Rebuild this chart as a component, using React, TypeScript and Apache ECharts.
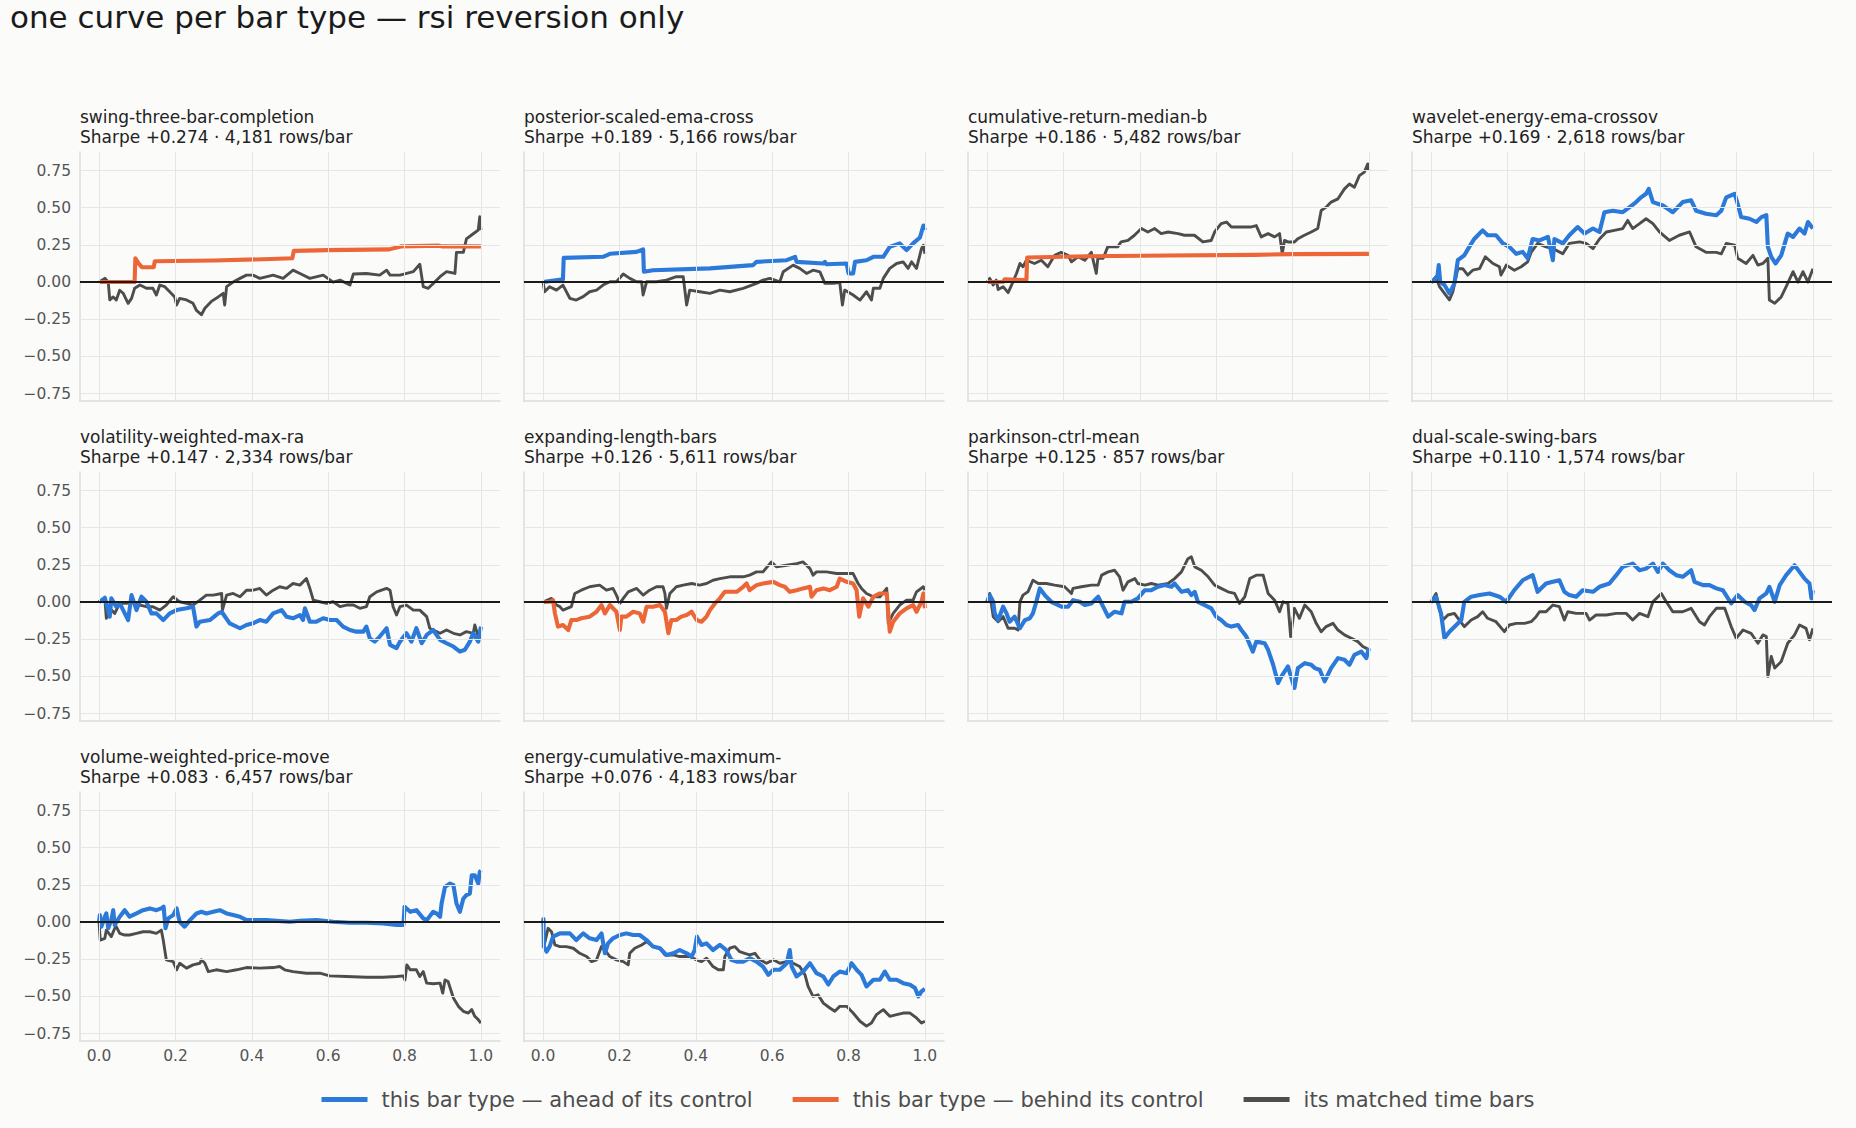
import { useEffect, useRef } from 'react'
import * as echarts from 'echarts'

// ── Data ─────────────────────────────────────────────────────────────────────
// one panel per bar type; x = fraction of the sample, y = cumulative return
const PANEL_NAMES = [
  'swing-three-bar-completion',
  'posterior-scaled-ema-cross',
  'cumulative-return-median-b',
  'wavelet-energy-ema-crossov',
  'volatility-weighted-max-ra',
  'expanding-length-bars',
  'parkinson-ctrl-mean',
  'dual-scale-swing-bars',
  'volume-weighted-price-move',
  'energy-cumulative-maximum-',
]
const SHARPE = ['+0.274', '+0.189', '+0.186', '+0.169', '+0.147', '+0.126', '+0.125', '+0.110', '+0.083', '+0.076']
const ROWS_PER_BAR = ['4,181', '5,166', '5,482', '2,618', '2,334', '5,611', '857', '1,574', '6,457', '4,183']
// true = bar type ended ahead of its time-bar control (blue), false = behind (orange)
const AHEAD = [false, true, false, true, true, false, true, true, true, true]

const X_TICKS = [0, 0.2, 0.4, 0.6, 0.8, 1.0]
const Y_TICKS = [-0.75, -0.5, -0.25, 0, 0.25, 0.5, 0.75]

const P1_BAR = [[0, 0], [0.093, 0], [0.095, 0.16], [0.105, 0.12], [0.112, 0.1], [0.143, 0.1], [0.146, 0.14], [0.3, 0.145], [0.45, 0.155], [0.506, 0.16], [0.51, 0.21], [0.6, 0.215], [0.76, 0.22], [0.79, 0.24], [0.89, 0.245], [0.9, 0.24], [1, 0.24]]
const P1_TIME = [[0, 0], [0.015, 0.025], [0.024, 0], [0.028, -0.12], [0.037, -0.1], [0.045, -0.12], [0.054, -0.055], [0.063, -0.075], [0.076, -0.143], [0.085, -0.11], [0.093, -0.042], [0.107, -0.02], [0.124, -0.042], [0.141, -0.042], [0.15, -0.087], [0.159, -0.02], [0.172, -0.031], [0.185, -0.065], [0.198, -0.1], [0.203, -0.154], [0.211, -0.11], [0.229, -0.12], [0.246, -0.143], [0.255, -0.19], [0.268, -0.22], [0.277, -0.176], [0.294, -0.13], [0.312, -0.1], [0.325, -0.076], [0.329, -0.154], [0.334, -0.031], [0.351, 0], [0.369, 0.025], [0.386, 0.047], [0.403, 0.047], [0.421, 0.025], [0.456, 0.047], [0.482, 0.025], [0.508, 0.08], [0.526, 0.058], [0.552, 0.025], [0.587, 0.047], [0.613, 0], [0.631, 0.013], [0.657, -0.02], [0.666, 0.054], [0.7, 0.058], [0.735, 0.047], [0.753, 0.08], [0.762, 0.047], [0.788, 0.047], [0.823, 0.07], [0.84, 0.12], [0.849, -0.031], [0.862, -0.042], [0.875, -0.01], [0.893, 0.036], [0.91, 0.07], [0.932, 0.058], [0.936, 0.2], [0.954, 0.2], [0.962, 0.29], [0.98, 0.325], [0.993, 0.35], [0.997, 0.44], [1, 0.35]]

const P2_BAR = [[0, 0], [0.052, 0.018], [0.054, 0.163], [0.157, 0.17], [0.175, 0.19], [0.245, 0.203], [0.262, 0.22], [0.264, 0.07], [0.288, 0.08], [0.437, 0.092], [0.55, 0.114], [0.559, 0.136], [0.638, 0.147], [0.66, 0.17], [0.664, 0.136], [0.734, 0.125], [0.738, 0.136], [0.742, 0.12], [0.795, 0.125], [0.8, 0.058], [0.812, 0.058], [0.817, 0.136], [0.847, 0.147], [0.865, 0.17], [0.891, 0.17], [0.908, 0.237], [0.934, 0.26], [0.952, 0.215], [0.969, 0.26], [0.987, 0.3], [0.996, 0.38], [1, 0.35]]
const P2_TIME = [[0, 0], [0.004, -0.065], [0.017, -0.031], [0.035, -0.054], [0.052, -0.02], [0.07, -0.109], [0.087, -0.121], [0.105, -0.098], [0.122, -0.065], [0.14, -0.054], [0.157, -0.02], [0.175, 0.002], [0.192, 0.002], [0.21, 0.054], [0.227, 0.025], [0.245, 0.002], [0.258, 0.002], [0.262, -0.087], [0.271, 0.002], [0.297, 0.002], [0.323, 0.013], [0.349, 0.036], [0.367, 0.036], [0.376, -0.154], [0.384, -0.054], [0.41, -0.065], [0.437, -0.076], [0.463, -0.054], [0.489, -0.065], [0.524, -0.042], [0.559, -0.009], [0.576, 0.013], [0.594, 0.025], [0.62, 0.002], [0.629, 0.069], [0.655, 0.114], [0.672, 0.092], [0.69, 0.058], [0.707, 0.08], [0.725, 0.069], [0.738, -0.009], [0.76, -0.009], [0.777, -0.004], [0.784, -0.154], [0.79, -0.054], [0.812, -0.087], [0.83, -0.121], [0.847, -0.065], [0.86, -0.121], [0.865, -0.042], [0.882, -0.042], [0.891, 0.025], [0.908, 0.092], [0.926, 0.125], [0.943, 0.136], [0.956, 0.092], [0.965, 0.136], [0.978, 0.092], [0.991, 0.225], [0.996, 0.248], [1, 0.19]]

const P3_BAR = [[0, 0], [0.042, 0.002], [0.046, 0.018], [0.103, 0.013], [0.105, 0.165], [0.265, 0.174], [0.474, 0.179], [0.7, 0.183], [0.797, 0.188], [1, 0.19]]
const P3_TIME = [[0, 0], [0.007, 0.025], [0.016, -0.02], [0.024, 0.013], [0.029, -0.05], [0.042, -0.031], [0.055, -0.071], [0.064, -0.02], [0.077, 0.058], [0.086, 0.125], [0.094, 0.103], [0.103, 0.147], [0.124, 0.125], [0.142, 0.147], [0.159, 0.103], [0.177, 0.18], [0.194, 0.2], [0.212, 0.18], [0.221, 0.136], [0.238, 0.17], [0.256, 0.147], [0.273, 0.2], [0.286, 0.058], [0.29, 0.16], [0.304, 0.16], [0.316, 0.237], [0.342, 0.237], [0.351, 0.27], [0.369, 0.28], [0.386, 0.315], [0.404, 0.36], [0.421, 0.337], [0.439, 0.36], [0.456, 0.326], [0.474, 0.337], [0.5, 0.326], [0.517, 0.315], [0.543, 0.315], [0.565, 0.27], [0.587, 0.28], [0.596, 0.337], [0.613, 0.393], [0.627, 0.404], [0.64, 0.37], [0.666, 0.37], [0.69, 0.37], [0.705, 0.38], [0.718, 0.304], [0.736, 0.326], [0.753, 0.304], [0.766, 0.326], [0.773, 0.19], [0.779, 0.28], [0.788, 0.27], [0.805, 0.27], [0.814, 0.292], [0.831, 0.315], [0.849, 0.337], [0.866, 0.36], [0.875, 0.482], [0.888, 0.504], [0.901, 0.538], [0.919, 0.56], [0.936, 0.627], [0.949, 0.66], [0.962, 0.638], [0.975, 0.716], [0.988, 0.74], [0.997, 0.795], [1, 0.75]]

const P4_BAR = [[0, 0], [0.009, 0.013], [0.017, 0.047], [0.02, 0.114], [0.024, 0], [0.035, -0.02], [0.048, -0.076], [0.061, -0.01], [0.07, 0.147], [0.087, 0.18], [0.1, 0.237], [0.113, 0.29], [0.135, 0.348], [0.148, 0.315], [0.17, 0.315], [0.188, 0.26], [0.205, 0.237], [0.223, 0.19], [0.24, 0.203], [0.253, 0.16], [0.266, 0.29], [0.284, 0.28], [0.306, 0.304], [0.319, 0.147], [0.323, 0.29], [0.345, 0.26], [0.362, 0.315], [0.384, 0.37], [0.402, 0.326], [0.424, 0.36], [0.441, 0.337], [0.454, 0.47], [0.476, 0.48], [0.502, 0.47], [0.52, 0.504], [0.537, 0.538], [0.55, 0.57], [0.563, 0.594], [0.57, 0.627], [0.581, 0.538], [0.607, 0.515], [0.633, 0.47], [0.659, 0.538], [0.681, 0.55], [0.694, 0.48], [0.72, 0.46], [0.747, 0.45], [0.76, 0.48], [0.773, 0.57], [0.795, 0.594], [0.803, 0.527], [0.812, 0.437], [0.834, 0.426], [0.852, 0.404], [0.865, 0.437], [0.878, 0.45], [0.882, 0.237], [0.891, 0.17], [0.902, 0.125], [0.917, 0.18], [0.934, 0.326], [0.948, 0.304], [0.965, 0.36], [0.978, 0.326], [0.987, 0.404], [1, 0.36]]
const P4_TIME = [[0, 0], [0.013, 0.036], [0.022, -0.031], [0.035, -0.076], [0.048, -0.12], [0.057, -0.065], [0.07, 0.09], [0.083, 0.09], [0.096, 0.047], [0.109, 0.08], [0.127, 0.09], [0.142, 0.17], [0.162, 0.125], [0.179, 0.103], [0.183, 0.047], [0.197, 0.114], [0.218, 0.08], [0.236, 0.103], [0.253, 0.136], [0.262, 0.2], [0.279, 0.26], [0.301, 0.237], [0.319, 0.225], [0.345, 0.19], [0.362, 0.26], [0.389, 0.27], [0.406, 0.26], [0.424, 0.225], [0.441, 0.29], [0.459, 0.337], [0.48, 0.348], [0.502, 0.36], [0.515, 0.415], [0.528, 0.36], [0.546, 0.393], [0.563, 0.426], [0.581, 0.393], [0.598, 0.337], [0.624, 0.28], [0.65, 0.315], [0.677, 0.337], [0.694, 0.237], [0.72, 0.2], [0.747, 0.2], [0.76, 0.19], [0.773, 0.26], [0.795, 0.248], [0.803, 0.16], [0.825, 0.125], [0.843, 0.18], [0.856, 0.114], [0.869, 0.125], [0.882, 0.16], [0.886, -0.12], [0.9, -0.143], [0.917, -0.1], [0.93, -0.031], [0.948, 0.07], [0.961, 0], [0.974, 0.07], [0.987, 0], [1, 0.09]]

const P5_BAR = [[0, 0], [0.015, 0.029], [0.028, -0.098], [0.032, 0.025], [0.045, -0.031], [0.054, -0.009], [0.063, -0.054], [0.076, -0.121], [0.085, 0.047], [0.098, -0.054], [0.111, 0.036], [0.124, 0.002], [0.137, -0.076], [0.15, -0.076], [0.168, -0.121], [0.185, -0.076], [0.203, -0.054], [0.229, -0.042], [0.246, -0.031], [0.255, -0.165], [0.264, -0.132], [0.29, -0.121], [0.312, -0.076], [0.321, -0.065], [0.342, -0.143], [0.369, -0.176], [0.386, -0.154], [0.403, -0.143], [0.421, -0.121], [0.438, -0.132], [0.456, -0.076], [0.478, -0.054], [0.491, -0.098], [0.508, -0.109], [0.526, -0.087], [0.534, -0.121], [0.539, -0.042], [0.552, -0.132], [0.569, -0.132], [0.587, -0.109], [0.604, -0.121], [0.622, -0.121], [0.639, -0.165], [0.657, -0.188], [0.674, -0.199], [0.692, -0.199], [0.7, -0.165], [0.709, -0.244], [0.722, -0.266], [0.735, -0.232], [0.753, -0.176], [0.762, -0.288], [0.779, -0.31], [0.788, -0.266], [0.805, -0.21], [0.818, -0.266], [0.831, -0.176], [0.845, -0.277], [0.858, -0.221], [0.875, -0.188], [0.893, -0.254], [0.91, -0.277], [0.928, -0.299], [0.945, -0.333], [0.958, -0.321], [0.971, -0.266], [0.98, -0.21], [0.993, -0.266], [1, -0.165]]
const P5_TIME = [[0, 0], [0.015, 0.025], [0.019, -0.109], [0.028, -0.042], [0.041, -0.076], [0.054, -0.009], [0.072, -0.009], [0.089, 0.002], [0.107, -0.02], [0.124, -0.031], [0.141, -0.031], [0.159, -0.054], [0.176, -0.02], [0.194, 0.036], [0.211, 0.002], [0.229, -0.009], [0.246, -0.02], [0.264, 0.013], [0.281, 0.047], [0.299, 0.047], [0.321, 0.058], [0.323, -0.054], [0.334, 0.047], [0.351, 0.058], [0.369, 0.036], [0.386, 0.08], [0.403, 0.08], [0.421, 0.092], [0.438, 0.047], [0.456, 0.08], [0.473, 0.103], [0.491, 0.092], [0.508, 0.125], [0.526, 0.114], [0.543, 0.158], [0.552, 0.092], [0.561, 0.013], [0.578, 0.002], [0.596, -0.009], [0.613, 0.002], [0.631, -0.031], [0.648, -0.02], [0.666, -0.02], [0.683, -0.042], [0.7, -0.031], [0.709, 0.036], [0.727, 0.069], [0.753, 0.092], [0.762, 0.08], [0.77, -0.031], [0.779, -0.087], [0.788, -0.031], [0.805, -0.02], [0.823, -0.054], [0.84, -0.054], [0.858, -0.098], [0.866, -0.176], [0.875, -0.188], [0.893, -0.21], [0.91, -0.188], [0.928, -0.21], [0.945, -0.221], [0.962, -0.199], [0.98, -0.21], [0.984, -0.154], [0.993, -0.232], [1, -0.176]]

const P6_BAR = [[0, 0], [0.017, 0.002], [0.026, 0.013], [0.031, -0.076], [0.039, -0.165], [0.052, -0.154], [0.066, -0.188], [0.074, -0.121], [0.087, -0.121], [0.1, -0.109], [0.122, -0.098], [0.14, -0.065], [0.153, -0.02], [0.162, -0.076], [0.175, -0.02], [0.192, -0.065], [0.201, -0.188], [0.205, -0.098], [0.218, -0.098], [0.236, -0.065], [0.253, -0.076], [0.262, -0.132], [0.271, -0.031], [0.288, -0.031], [0.306, -0.02], [0.319, -0.065], [0.328, -0.21], [0.336, -0.121], [0.349, -0.121], [0.362, -0.098], [0.376, -0.087], [0.389, -0.065], [0.402, -0.121], [0.415, -0.132], [0.428, -0.098], [0.437, -0.054], [0.45, -0.009], [0.463, 0.025], [0.476, 0.069], [0.507, 0.069], [0.524, 0.103], [0.533, 0.125], [0.541, 0.08], [0.559, 0.114], [0.576, 0.125], [0.603, 0.136], [0.62, 0.114], [0.633, 0.103], [0.646, 0.069], [0.664, 0.08], [0.681, 0.092], [0.699, 0.103], [0.703, 0.036], [0.716, 0.08], [0.734, 0.092], [0.751, 0.08], [0.769, 0.103], [0.777, 0.158], [0.795, 0.136], [0.812, 0.125], [0.821, 0.08], [0.828, -0.098], [0.838, 0.025], [0.852, -0.031], [0.865, 0.036], [0.882, 0.058], [0.9, 0.058], [0.908, -0.199], [0.917, -0.132], [0.934, -0.076], [0.952, -0.042], [0.969, -0.02], [0.978, -0.065], [0.991, 0.002], [0.996, 0.058], [1, -0.042]]
const P6_TIME = [[0, 0], [0.022, 0.025], [0.035, -0.02], [0.044, -0.031], [0.052, -0.054], [0.074, -0.031], [0.083, 0.058], [0.1, 0.08], [0.122, 0.103], [0.148, 0.114], [0.166, 0.08], [0.183, 0.092], [0.192, 0.047], [0.201, -0.009], [0.21, 0.025], [0.223, 0.069], [0.245, 0.092], [0.262, 0.047], [0.279, 0.08], [0.297, 0.103], [0.314, 0.103], [0.319, 0.058], [0.323, -0.042], [0.332, 0.058], [0.349, 0.103], [0.367, 0.114], [0.389, 0.125], [0.41, 0.114], [0.428, 0.125], [0.445, 0.147], [0.463, 0.158], [0.489, 0.17], [0.524, 0.17], [0.541, 0.181], [0.559, 0.203], [0.576, 0.203], [0.598, 0.27], [0.611, 0.237], [0.638, 0.248], [0.664, 0.259], [0.681, 0.27], [0.699, 0.225], [0.707, 0.181], [0.716, 0.203], [0.742, 0.203], [0.769, 0.192], [0.786, 0.192], [0.812, 0.192], [0.825, 0.125], [0.834, 0.092], [0.847, 0.058], [0.865, 0.036], [0.882, 0.036], [0.9, 0.092], [0.904, -0.143], [0.917, -0.076], [0.934, -0.02], [0.952, 0.013], [0.969, 0.013], [0.978, 0.069], [0.996, 0.103], [1, 0.08]]

const P7_BAR = [[0, 0], [0.007, 0.047], [0.016, 0.002], [0.02, -0.076], [0.029, -0.121], [0.042, -0.031], [0.051, -0.076], [0.059, -0.132], [0.072, -0.098], [0.086, -0.176], [0.099, -0.121], [0.112, -0.109], [0.12, -0.076], [0.129, 0.002], [0.138, 0.092], [0.151, 0.047], [0.168, 0.002], [0.195, -0.031], [0.212, -0.031], [0.225, 0.013], [0.243, 0.002], [0.256, -0.02], [0.273, -0.009], [0.291, 0.036], [0.304, -0.031], [0.317, -0.098], [0.334, -0.065], [0.352, -0.076], [0.36, 0.002], [0.378, 0.002], [0.395, 0.025], [0.413, 0.08], [0.43, 0.08], [0.448, 0.103], [0.465, 0.114], [0.483, 0.103], [0.491, 0.125], [0.509, 0.069], [0.526, 0.08], [0.535, 0.047], [0.544, 0.069], [0.552, 0.002], [0.57, -0.02], [0.587, -0.042], [0.6, -0.098], [0.613, -0.121], [0.627, -0.154], [0.64, -0.165], [0.657, -0.154], [0.666, -0.188], [0.679, -0.232], [0.696, -0.333], [0.705, -0.266], [0.727, -0.277], [0.736, -0.321], [0.749, -0.42], [0.762, -0.545], [0.771, -0.5], [0.788, -0.433], [0.797, -0.511], [0.805, -0.578], [0.814, -0.444], [0.832, -0.411], [0.849, -0.422], [0.858, -0.444], [0.871, -0.455], [0.884, -0.533], [0.901, -0.444], [0.919, -0.377], [0.936, -0.388], [0.949, -0.422], [0.962, -0.355], [0.98, -0.333], [0.993, -0.377], [1, -0.31]]
const P7_TIME = [[0, 0], [0.007, 0.058], [0.016, -0.098], [0.029, -0.132], [0.042, -0.098], [0.055, -0.176], [0.072, -0.176], [0.081, -0.188], [0.086, 0.002], [0.094, 0.047], [0.107, 0.069], [0.12, 0.147], [0.134, 0.125], [0.155, 0.125], [0.177, 0.114], [0.203, 0.103], [0.221, 0.058], [0.225, 0.092], [0.247, 0.103], [0.273, 0.114], [0.291, 0.114], [0.3, 0.181], [0.317, 0.203], [0.334, 0.214], [0.347, 0.17], [0.356, 0.08], [0.369, 0.136], [0.387, 0.158], [0.395, 0.125], [0.413, 0.114], [0.43, 0.125], [0.448, 0.114], [0.474, 0.125], [0.491, 0.158], [0.509, 0.203], [0.526, 0.292], [0.535, 0.304], [0.544, 0.237], [0.561, 0.214], [0.579, 0.17], [0.596, 0.114], [0.613, 0.092], [0.631, 0.069], [0.648, 0.058], [0.661, -0.009], [0.675, 0.036], [0.688, 0.158], [0.705, 0.181], [0.723, 0.181], [0.736, 0.058], [0.753, 0.013], [0.766, -0.065], [0.775, 0.002], [0.788, -0.009], [0.795, -0.232], [0.805, -0.042], [0.818, -0.109], [0.832, -0.02], [0.849, -0.065], [0.862, -0.143], [0.875, -0.199], [0.888, -0.165], [0.906, -0.143], [0.919, -0.188], [0.936, -0.221], [0.954, -0.243], [0.971, -0.266], [0.984, -0.299], [1, -0.32]]

const P8_BAR = [[0, 0], [0.013, 0.036], [0.026, -0.076], [0.035, -0.243], [0.048, -0.199], [0.066, -0.154], [0.079, -0.121], [0.087, 0.002], [0.105, 0.036], [0.127, 0.047], [0.153, 0.058], [0.179, 0.036], [0.197, 0.002], [0.218, 0.08], [0.24, 0.147], [0.266, 0.181], [0.279, 0.069], [0.301, 0.125], [0.319, 0.136], [0.336, 0.147], [0.349, 0.069], [0.362, 0.047], [0.38, 0.036], [0.397, 0.08], [0.424, 0.069], [0.441, 0.103], [0.467, 0.125], [0.485, 0.181], [0.502, 0.237], [0.528, 0.259], [0.546, 0.214], [0.563, 0.225], [0.581, 0.259], [0.594, 0.203], [0.607, 0.259], [0.624, 0.214], [0.642, 0.181], [0.659, 0.17], [0.681, 0.214], [0.69, 0.136], [0.712, 0.114], [0.729, 0.114], [0.747, 0.092], [0.764, 0.08], [0.786, -0.009], [0.803, 0.047], [0.821, 0.002], [0.838, -0.02], [0.847, -0.054], [0.86, 0.025], [0.878, 0.058], [0.886, 0.103], [0.9, 0.002], [0.913, 0.114], [0.93, 0.181], [0.952, 0.248], [0.965, 0.203], [0.978, 0.158], [0.991, 0.125], [0.996, 0.025], [1, 0.08]]
const P8_TIME = [[0, 0], [0.013, 0.058], [0.022, -0.054], [0.031, -0.121], [0.044, -0.087], [0.061, -0.076], [0.074, -0.121], [0.087, -0.165], [0.105, -0.121], [0.122, -0.098], [0.135, -0.065], [0.148, -0.109], [0.17, -0.132], [0.192, -0.199], [0.205, -0.154], [0.223, -0.143], [0.245, -0.143], [0.262, -0.132], [0.275, -0.098], [0.284, -0.065], [0.301, -0.065], [0.319, -0.02], [0.336, -0.031], [0.349, -0.121], [0.358, -0.065], [0.38, -0.076], [0.406, -0.076], [0.415, -0.121], [0.432, -0.087], [0.459, -0.087], [0.485, -0.076], [0.511, -0.076], [0.528, -0.121], [0.546, -0.076], [0.568, -0.098], [0.581, 0.002], [0.603, 0.058], [0.616, 0.002], [0.633, -0.065], [0.659, -0.065], [0.681, -0.042], [0.703, -0.132], [0.716, -0.154], [0.729, -0.098], [0.747, -0.042], [0.769, -0.042], [0.786, -0.165], [0.799, -0.243], [0.817, -0.188], [0.838, -0.21], [0.856, -0.277], [0.869, -0.221], [0.878, -0.232], [0.882, -0.5], [0.891, -0.366], [0.9, -0.444], [0.917, -0.4], [0.934, -0.277], [0.952, -0.221], [0.965, -0.154], [0.982, -0.177], [0.991, -0.254], [1, -0.177]]

const P9_BAR = [[0, 0], [0.002, 0.047], [0.006, -0.031], [0.015, 0.036], [0.019, 0.058], [0.024, -0.042], [0.032, 0.013], [0.037, 0.08], [0.041, -0.02], [0.054, 0.036], [0.067, 0.08], [0.08, 0.036], [0.098, 0.058], [0.115, 0.08], [0.133, 0.092], [0.15, 0.08], [0.163, 0.092], [0.169, 0.103], [0.174, -0.042], [0.181, 0.025], [0.194, 0.047], [0.203, 0.092], [0.211, 0.002], [0.224, -0.031], [0.238, 0.013], [0.255, 0.058], [0.268, 0.069], [0.281, 0.058], [0.299, 0.069], [0.316, 0.08], [0.334, 0.058], [0.351, 0.047], [0.369, 0.036], [0.386, 0.013], [0.438, 0.013], [0.5, 0.002], [0.526, 0.009], [0.569, 0.013], [0.613, 0.002], [0.657, -0.005], [0.7, -0.005], [0.744, -0.009], [0.779, -0.02], [0.797, -0.02], [0.8, 0.103], [0.815, 0.069], [0.831, 0.08], [0.849, 0.025], [0.858, 0.013], [0.875, 0.069], [0.884, 0.058], [0.893, 0.036], [0.897, 0.125], [0.906, 0.237], [0.919, 0.259], [0.928, 0.248], [0.936, 0.125], [0.945, 0.069], [0.954, 0.158], [0.962, 0.181], [0.971, 0.192], [0.976, 0.315], [0.984, 0.315], [0.993, 0.259], [0.997, 0.337], [1, 0.348]]
const P9_TIME = [[0, 0], [0.003, -0.121], [0.015, -0.109], [0.019, -0.054], [0.032, -0.098], [0.041, -0.042], [0.045, -0.031], [0.054, -0.076], [0.067, -0.087], [0.08, -0.087], [0.098, -0.076], [0.115, -0.065], [0.133, -0.065], [0.15, -0.076], [0.163, -0.054], [0.168, -0.121], [0.172, -0.188], [0.176, -0.254], [0.194, -0.266], [0.203, -0.321], [0.211, -0.277], [0.229, -0.31], [0.246, -0.288], [0.264, -0.277], [0.268, -0.254], [0.277, -0.277], [0.286, -0.333], [0.307, -0.321], [0.334, -0.333], [0.36, -0.321], [0.386, -0.306], [0.421, -0.31], [0.456, -0.306], [0.473, -0.299], [0.486, -0.321], [0.508, -0.333], [0.543, -0.344], [0.578, -0.344], [0.604, -0.362], [0.648, -0.366], [0.7, -0.371], [0.744, -0.371], [0.779, -0.366], [0.797, -0.362], [0.801, -0.39], [0.806, -0.288], [0.815, -0.321], [0.831, -0.321], [0.84, -0.366], [0.849, -0.333], [0.858, -0.411], [0.875, -0.415], [0.893, -0.411], [0.9, -0.478], [0.906, -0.39], [0.914, -0.4], [0.928, -0.511], [0.941, -0.567], [0.954, -0.6], [0.967, -0.612], [0.976, -0.589], [0.984, -0.634], [0.993, -0.656], [1, -0.68]]

const P10_BAR = [[0, 0], [0.001, 0.02], [0.002, -0.165], [0.009, -0.199], [0.017, -0.165], [0.026, -0.098], [0.044, -0.076], [0.07, -0.076], [0.087, -0.121], [0.105, -0.076], [0.122, -0.109], [0.14, -0.121], [0.153, -0.076], [0.162, -0.21], [0.17, -0.143], [0.183, -0.109], [0.201, -0.087], [0.218, -0.076], [0.236, -0.087], [0.253, -0.087], [0.271, -0.121], [0.288, -0.165], [0.306, -0.176], [0.323, -0.221], [0.341, -0.21], [0.358, -0.188], [0.376, -0.21], [0.389, -0.232], [0.397, -0.188], [0.403, -0.098], [0.415, -0.154], [0.428, -0.143], [0.445, -0.188], [0.463, -0.154], [0.48, -0.188], [0.493, -0.254], [0.507, -0.266], [0.524, -0.266], [0.541, -0.243], [0.559, -0.266], [0.576, -0.299], [0.59, -0.355], [0.603, -0.321], [0.62, -0.321], [0.638, -0.277], [0.646, -0.188], [0.651, -0.299], [0.664, -0.366], [0.681, -0.333], [0.699, -0.277], [0.716, -0.344], [0.734, -0.366], [0.747, -0.42], [0.76, -0.366], [0.777, -0.333], [0.795, -0.344], [0.808, -0.277], [0.821, -0.321], [0.834, -0.355], [0.847, -0.433], [0.865, -0.388], [0.882, -0.388], [0.895, -0.333], [0.908, -0.388], [0.926, -0.388], [0.943, -0.411], [0.961, -0.422], [0.974, -0.444], [0.983, -0.5], [0.991, -0.466], [1, -0.449]]
const P10_TIME = [[0, 0], [0.004, -0.143], [0.013, -0.042], [0.022, -0.065], [0.031, -0.154], [0.044, -0.165], [0.061, -0.165], [0.079, -0.176], [0.096, -0.21], [0.114, -0.232], [0.127, -0.266], [0.14, -0.254], [0.153, -0.165], [0.162, -0.188], [0.175, -0.232], [0.192, -0.254], [0.21, -0.266], [0.223, -0.288], [0.227, -0.21], [0.24, -0.176], [0.258, -0.154], [0.271, -0.132], [0.288, -0.165], [0.306, -0.176], [0.319, -0.221], [0.341, -0.221], [0.358, -0.232], [0.384, -0.232], [0.402, -0.254], [0.415, -0.266], [0.428, -0.243], [0.445, -0.299], [0.459, -0.321], [0.472, -0.321], [0.476, -0.232], [0.489, -0.176], [0.502, -0.165], [0.515, -0.199], [0.528, -0.21], [0.541, -0.221], [0.555, -0.21], [0.568, -0.254], [0.585, -0.277], [0.603, -0.254], [0.62, -0.277], [0.638, -0.266], [0.655, -0.277], [0.672, -0.299], [0.686, -0.355], [0.694, -0.433], [0.707, -0.5], [0.72, -0.489], [0.734, -0.545], [0.751, -0.578], [0.764, -0.6], [0.777, -0.567], [0.795, -0.567], [0.812, -0.612], [0.83, -0.667], [0.847, -0.7], [0.86, -0.679], [0.873, -0.623], [0.891, -0.589], [0.908, -0.634], [0.926, -0.623], [0.943, -0.612], [0.961, -0.612], [0.978, -0.645], [0.991, -0.679], [1, -0.667]]

const BAR_CURVES = [P1_BAR, P2_BAR, P3_BAR, P4_BAR, P5_BAR, P6_BAR, P7_BAR, P8_BAR, P9_BAR, P10_BAR]
const TIME_CURVES = [P1_TIME, P2_TIME, P3_TIME, P4_TIME, P5_TIME, P6_TIME, P7_TIME, P8_TIME, P9_TIME, P10_TIME]

// ── Style ────────────────────────────────────────────────────────────────────
const BLUE = '#2b79d9'
const ORANGE = '#ec6637'
const GREY = '#4d4d4d'
const BG = '#fbfbfa'
const FONT = '"DejaVu Sans", sans-serif'

const NAME_AHEAD = 'this bar type — ahead of its control'
const NAME_BEHIND = 'this bar type — behind its control'
const NAME_TIME = 'its matched time bars'

// facet layout (px)
const COLS = 4
const PANEL_LEFT = 80
const PANEL_TOP = 152
const PANEL_W = 420
const PANEL_H = 249
const COL_STEP = 444
const ROW_STEP = 320

const fmtY = (v: number) => {
  const k = Math.round(v * 1000)
  if (k % 250 !== 0) return ''
  return (k < 0 ? '\u2212' : '') + Math.abs(v).toFixed(2)
}
const fmtX = (v: number) => {
  const k = Math.round(v * 100)
  if (k < 0 || k % 20 !== 0) return ''
  return v.toFixed(1)
}

export default function App() {
  const chartRef = useRef<HTMLDivElement>(null)

  useEffect(() => {
    document.body.style.margin = '0'
    document.body.style.background = BG
    if (!chartRef.current) return
    const chart = echarts.init(chartRef.current, null, { renderer: 'svg' })

    const grids: any[] = []
    const xAxes: any[] = []
    const yAxes: any[] = []
    const series: any[] = []
    const titles: any[] = [
      {
        text: 'one curve per bar type — rsi reversion only',
        left: 10,
        top: 0,
        padding: 0,
        textStyle: { fontSize: 31, fontWeight: 'normal', color: '#1a1a1a', fontFamily: FONT, lineHeight: 34 },
      },
    ]

    PANEL_NAMES.forEach((name, i) => {
      const col = i % COLS
      const row = Math.floor(i / COLS)
      const left = PANEL_LEFT + col * COL_STEP
      const top = PANEL_TOP + row * ROW_STEP
      const showX = i >= PANEL_NAMES.length - 2
      const showY = col === 0

      grids.push({ left, top, width: PANEL_W, height: PANEL_H, containLabel: false })

      titles.push({
        text: `${name}\nSharpe ${SHARPE[i]} · ${ROWS_PER_BAR[i]} rows/bar`,
        left,
        top: top - 45,
        padding: 0,
        textStyle: { fontSize: 17, fontWeight: 'normal', color: '#222', fontFamily: FONT, lineHeight: 20 },
      })

      xAxes.push({
        type: 'value',
        gridIndex: i,
        min: -0.05,
        max: 1.05,
        interval: 0.05,
        axisLine: { show: true, onZero: false, lineStyle: { color: '#dcdcdc', width: 1.5 } },
        axisTick: { show: false },
        splitLine: { show: false },
        axisLabel: { show: showX, formatter: fmtX, fontSize: 15.5, color: '#555', margin: 7, fontFamily: FONT },
      })
      yAxes.push({
        type: 'value',
        gridIndex: i,
        min: -0.8,
        max: 0.875,
        interval: 0.025,
        axisLine: { show: true, onZero: false, lineStyle: { color: '#dcdcdc', width: 1.5 } },
        axisTick: { show: false },
        splitLine: { show: false },
        axisLabel: { show: showY, formatter: fmtY, fontSize: 15.5, color: '#555', margin: 9, fontFamily: FONT },
      })

      // gridlines + zero line, underneath the curves
      const gridLine = { color: '#e6e6e6', width: 1, type: 'solid' }
      series.push({
        type: 'line',
        xAxisIndex: i,
        yAxisIndex: i,
        data: [],
        silent: true,
        z: 1,
        markLine: {
          silent: true,
          animation: false,
          symbol: ['none', 'none'],
          label: { show: false },
          data: [
            ...X_TICKS.map(v => ({ xAxis: v, lineStyle: gridLine })),
            ...Y_TICKS.filter(v => v !== 0).map(v => ({ yAxis: v, lineStyle: gridLine })),
            { yAxis: 0, lineStyle: { color: '#1a1a1a', width: 2, type: 'solid' } },
          ],
        },
      })

      series.push({
        type: 'line',
        name: NAME_TIME,
        xAxisIndex: i,
        yAxisIndex: i,
        data: TIME_CURVES[i],
        showSymbol: false,
        symbol: 'none',
        z: 3,
        lineStyle: { color: GREY, width: 2.9, join: 'round' },
        itemStyle: { color: GREY },
      })
      series.push({
        type: 'line',
        name: AHEAD[i] ? NAME_AHEAD : NAME_BEHIND,
        xAxisIndex: i,
        yAxisIndex: i,
        data: BAR_CURVES[i],
        showSymbol: false,
        symbol: 'none',
        z: 4,
        lineStyle: { color: AHEAD[i] ? BLUE : ORANGE, width: 4.1, join: 'round' },
        itemStyle: { color: AHEAD[i] ? BLUE : ORANGE },
      })
    })

    chart.setOption({
      animation: false,
      backgroundColor: BG,
      textStyle: { fontFamily: FONT },
      title: titles,
      grid: grids,
      xAxis: xAxes,
      yAxis: yAxes,
      legend: {
        left: 'center',
        top: 1089,
        padding: 0,
        selectedMode: false,
        itemWidth: 46,
        itemHeight: 5,
        itemGap: 40,
        textStyle: { fontSize: 21, color: '#4d4d4d', fontFamily: FONT, padding: [0, 0, 0, 9] },
        data: [
          { name: NAME_AHEAD, icon: 'rect', itemStyle: { color: BLUE } },
          { name: NAME_BEHIND, icon: 'rect', itemStyle: { color: ORANGE } },
          { name: NAME_TIME, icon: 'rect', itemStyle: { color: GREY } },
        ],
      },
      series,
    })

    return () => chart.dispose()
  }, [])

  return <div ref={chartRef} style={{ width: 1856, height: 1128, background: BG }} />
}
